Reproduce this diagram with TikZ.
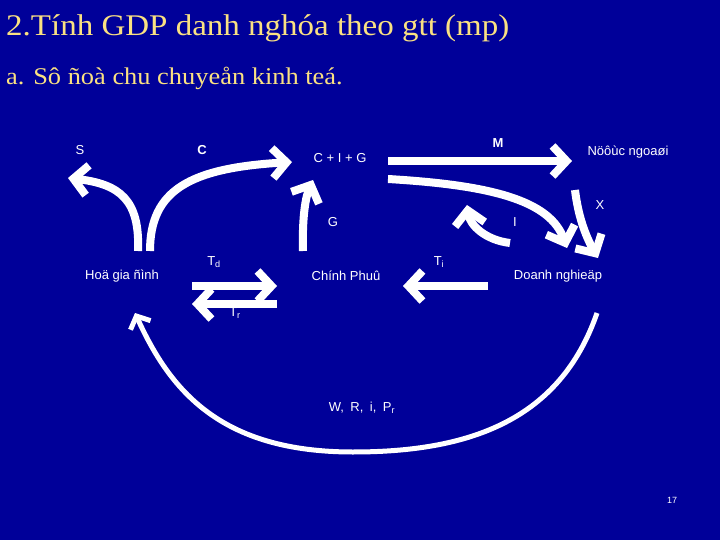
\documentclass[tikz,border=0pt]{standalone}
\usepackage{fontspec}
\setmainfont{Liberation Serif}
\newfontfamily\titlefont[FakeStretch=1.1]{Liberation Serif}
\newfontfamily\labelfont{Liberation Sans}
\usetikzlibrary{arrows.meta}
\definecolor{slideblue}{RGB}{0,0,153}
\definecolor{titleyellow}{RGB}{250,225,130}
\tikzset{
  flow/.style={draw=white, line width=8pt, -{Straight Barb[length=14pt,width=30pt]}},
  thinflow/.style={draw=white, line width=5pt, -{Straight Barb[length=10pt,width=22pt]}},
  lbl/.style={text=white, inner sep=1pt, font=\labelfont\fontsize{13}{15}\selectfont},
}
\begin{document}
\begin{tikzpicture}[x=1pt,y=-1pt]
\fill[slideblue] (0,0) rectangle (720,540);
\useasboundingbox (0,0) rectangle (720,540);
% titles
\node[anchor=base west, inner sep=0pt, text=titleyellow, font=\titlefont\fontsize{30}{34}\selectfont] (title) at (6,36) {2.Tính GDP danh nghóa theo gtt (mp)};
\node[anchor=base west, inner sep=0pt, text=titleyellow, font=\titlefont\fontsize{24}{28}\selectfont] (subtitle) at (6,85) {a. Sô ñoà chu chuyeån kinh teá.};
% sectors
\node[lbl] (hgd) at (122,276) {Hoä gia ñình};
\node[lbl] (cp) at (346,276) {Chính Phuû};
\node[lbl] (dn) at (558,276) {Doanh nghieäp};
\node[lbl] (nn) at (628,152) {Nöôùc ngoaøi};
\node[lbl] (cig) at (340,158) {C + I + G};
% flow labels
\node[lbl] (lS) at (80,150) {S};
\node[lbl] (lC) at (202,150) {\bfseries C};
\node[lbl] (lM) at (498,143) {\bfseries M};
\node[lbl] (lX) at (600,205) {X};
\node[lbl] (lG) at (333,222) {G};
\node[lbl] (lI) at (515,222) {I};
\node[lbl] (lTd) at (214,262) {T\textsubscript{d}};
\node[lbl] (lTi) at (439,262) {T\textsubscript{i}};
\node[lbl] (lTr) at (235,313) {T\textsubscript{r}};
\node[lbl] (lW) at (362,408) {W,\enspace R,\enspace i,\enspace P\textsubscript{r}};
\node[text=white, inner sep=0pt, font=\labelfont\fontsize{9}{10}\selectfont] (pg) at (672,500) {17};
% arrow ends
\coordinate (hgdS) at (138,251);
\coordinate (hgdC) at (150,251);
\coordinate (sEnd) at (68,178);
\coordinate (cigW) at (292,162);
\coordinate (cpG) at (303,251);
\coordinate (cigS) at (313,180);
\coordinate (cigM) at (388,161);
\coordinate (nnW) at (572,161);
\coordinate (cigD) at (388,179);
\coordinate (dnN) at (567,248);
\coordinate (nnS) at (575,190);
\coordinate (dnX) at (598,258);
\coordinate (dnI) at (510,243);
\coordinate (iEnd) at (467,205);
\coordinate (hgdE) at (192,286);
\coordinate (cpW) at (277,286);
\coordinate (cpWr) at (277,304);
\coordinate (hgdEr) at (192,304);
\coordinate (dnW) at (488,286);
\coordinate (cpE) at (403,286);
\coordinate (dnS) at (597,313);
\coordinate (low) at (353,452);
\coordinate (hgdS2) at (135,313);
% flows
\draw[flow] (hgdS) .. controls (140,200) and (120,184) .. (sEnd);
\draw[flow] (hgdC) .. controls (150,190) and (190,168) .. (cigW);
\draw[flow] (cpG) .. controls (302,215) and (306,196) .. (cigS);
\draw[flow] (cigM) -- (nnW);
\draw[flow] (cigD) .. controls (490,185) and (550,200) .. (dnN);
\draw[flow] (nnS) .. controls (578,215) and (585,235) .. (dnX);
\draw[flow] (dnI) .. controls (485,240) and (470,225) .. (iEnd);
\draw[flow] (hgdE) -- (cpW);
\draw[flow] (cpWr) -- (hgdEr);
\draw[flow] (dnW) -- (cpE);
\draw[thinflow] (dnS) .. controls (560,420) and (470,452) .. (low) .. controls (220,452) and (170,390) .. (hgdS2);
\end{tikzpicture}
\end{document}
